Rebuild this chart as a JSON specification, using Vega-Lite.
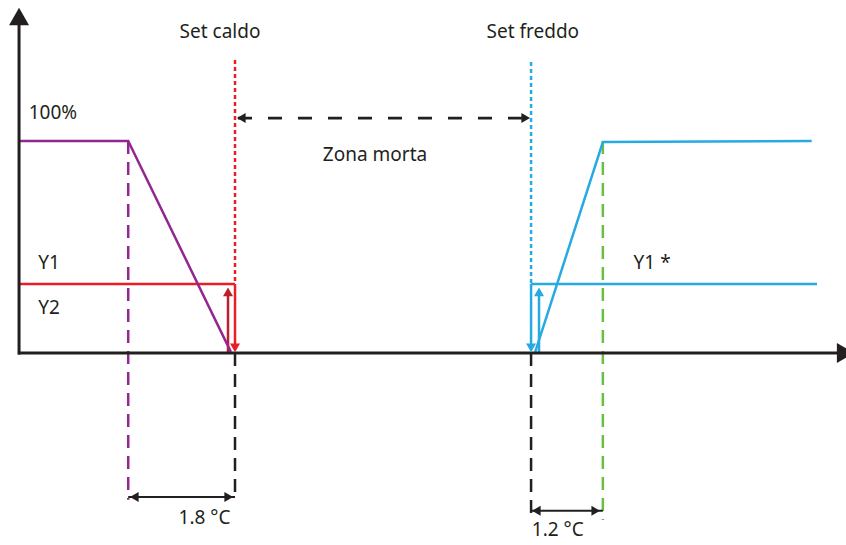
{
  "$schema": "https://vega.github.io/schema/vega-lite/v6.json",
  "width": 846,
  "height": 545,
  "autosize": {"type": "none"},
  "padding": 0,
  "background": "white",
  "config": {"view": {"stroke": null}},
  "datasets": {
    "curve": [
      {"serie": "viola", "ord": 1, "x": -3.64, "y": 100},
      {"serie": "viola", "ord": 2, "x": -1.8, "y": 100},
      {"serie": "viola", "ord": 3, "x": -0.07, "y": 0.5},
      {"serie": "blu", "ord": 1, "x": 5.06, "y": 0.5},
      {"serie": "blu", "ord": 2, "x": 6.2, "y": 99.5},
      {"serie": "blu", "ord": 3, "x": 9.72, "y": 100}
    ],
    "seg": [
      {"gruppo": "assi", "serie": "nero", "tratto": "pieno", "x": -3.64, "y": -0.7, "x2": -3.64, "y2": 155},
      {"gruppo": "assi", "serie": "nero", "tratto": "pieno", "x": -3.66, "y": 0, "x2": 10.2, "y2": 0},
      {"gruppo": "linee", "serie": "viola", "tratto": "tratteggio", "x": -1.8, "y": 100, "x2": -1.8, "y2": -69.3},
      {"gruppo": "linee", "serie": "rosso", "tratto": "pieno", "x": -3.64, "y": 32.5, "x2": 0, "y2": 32.5},
      {"gruppo": "linee", "serie": "rosso", "tratto": "pieno", "x": 0, "y": 32.5, "x2": 0, "y2": 2.5},
      {"gruppo": "linee", "serie": "rosso", "tratto": "punti", "x": 0, "y": 138.2, "x2": 0, "y2": 32.5},
      {"gruppo": "linee", "serie": "rosso scuro", "tratto": "pieno", "x": -0.118, "y": 0, "x2": -0.118, "y2": 27},
      {"gruppo": "linee", "serie": "nero", "tratto": "tratteggio", "x": 0, "y": 0, "x2": 0, "y2": -69.3},
      {"gruppo": "linee", "serie": "nero", "tratto": "tratteggio", "x": 4.99, "y": 0, "x2": 4.99, "y2": -77},
      {"gruppo": "linee", "serie": "blu", "tratto": "punti", "x": 4.99, "y": 137.3, "x2": 4.99, "y2": 32.5},
      {"gruppo": "linee", "serie": "blu", "tratto": "pieno", "x": 4.99, "y": 32.5, "x2": 9.81, "y2": 32.5},
      {"gruppo": "linee", "serie": "blu", "tratto": "pieno", "x": 4.99, "y": 32.5, "x2": 4.99, "y2": 2.5},
      {"gruppo": "linee", "serie": "blu", "tratto": "pieno", "x": 5.124, "y": 0, "x2": 5.124, "y2": 27},
      {"gruppo": "linee", "serie": "verde", "tratto": "tratteggio", "x": 6.2, "y": 100, "x2": 6.2, "y2": -78.8},
      {"gruppo": "quote", "serie": "nero", "tratto": "pieno", "x": -1.8, "y": -67.9, "x2": 0, "y2": -67.9},
      {"gruppo": "quote", "serie": "nero", "tratto": "pieno", "x": 4.99, "y": -74.5, "x2": 6.2, "y2": -74.5},
      {"gruppo": "zona", "serie": "nero", "tratto": "zona", "x": 0.05, "y": 110.8, "x2": 4.95, "y2": 110.8}
    ],
    "punte": [
      {"gruppo": "grande", "serie": "nero", "forma": "triangle-up", "x": -3.64, "y": 158.7},
      {"gruppo": "grande", "serie": "nero", "forma": "triangle-right", "x": 10.29, "y": 0},
      {"gruppo": "piccola", "serie": "rosso", "forma": "triangle-down", "x": 0, "y": 2.36},
      {"gruppo": "piccola", "serie": "rosso scuro", "forma": "triangle-up", "x": -0.118, "y": 28.8},
      {"gruppo": "piccola", "serie": "blu", "forma": "triangle-down", "x": 4.99, "y": 2.36},
      {"gruppo": "piccola", "serie": "blu", "forma": "triangle-up", "x": 5.124, "y": 28.8},
      {"gruppo": "piccola", "serie": "nero", "forma": "triangle-left", "x": -1.697, "y": -67.9},
      {"gruppo": "piccola", "serie": "nero", "forma": "triangle-right", "x": -0.106, "y": -67.9},
      {"gruppo": "piccola", "serie": "nero", "forma": "triangle-left", "x": 5.078, "y": -74.5},
      {"gruppo": "piccola", "serie": "nero", "forma": "triangle-right", "x": 6.08, "y": -74.5},
      {"gruppo": "piccola", "serie": "nero", "forma": "triangle-left", "x": 0.106, "y": 110.8},
      {"gruppo": "piccola", "serie": "nero", "forma": "triangle-right", "x": 4.9, "y": 110.8}
    ],
    "testi": [
      {"testo": "Set caldo", "x": -0.253, "y": 151.4},
      {"testo": "Set freddo", "x": 5.02, "y": 151.4},
      {"testo": "100%", "x": -3.07, "y": 113.2},
      {"testo": "Y1", "x": -3.135, "y": 42.5},
      {"testo": "Y2", "x": -3.135, "y": 21.2},
      {"testo": "Zona morta", "x": 2.36, "y": 93.4},
      {"testo": "Y1 *", "x": 7.03, "y": 42.5},
      {"testo": "1.8 °C", "x": -0.514, "y": -77.8},
      {"testo": "1.2 °C", "x": 5.44, "y": -83.5}
    ]
  },
  "layer": [
    {
      "data": {"name": "seg"},
      "transform": [{"filter": "datum.gruppo === 'linee'"}],
      "mark": {"type": "rule", "strokeWidth": 2.5},
      "encoding": {
        "x": {"field": "x", "type": "quantitative", "scale": {"domain": [-3.961, 10.298], "nice": false, "zero": false}, "axis": null},
        "y": {"field": "y", "type": "quantitative", "scale": {"domain": [-90.6, 166.5], "nice": false, "zero": false}, "axis": null},
        "x2": {"field": "x2"},
        "y2": {"field": "y2"},
        "color": {"field": "serie", "type": "nominal", "legend": null, "scale": {"domain": ["nero", "viola", "rosso", "rosso scuro", "blu", "verde"], "range": ["#231f20", "#92278f", "#ed1c24", "#be1e2d", "#27aae1", "#6abd45"]}},
        "strokeDash": {"field": "tratto", "type": "nominal", "legend": null, "scale": {"domain": ["pieno", "tratteggio", "punti", "zona"], "range": [[1, 0], [13, 8], [4, 3], [14, 16]]}}
      }
    },
    {
      "data": {"name": "curve"},
      "mark": {"type": "line", "strokeWidth": 2.5, "strokeJoin": "miter"},
      "encoding": {
        "x": {"field": "x", "type": "quantitative", "scale": {"domain": [-3.961, 10.298], "nice": false, "zero": false}, "axis": null},
        "y": {"field": "y", "type": "quantitative", "scale": {"domain": [-90.6, 166.5], "nice": false, "zero": false}, "axis": null},
        "order": {"field": "ord", "type": "quantitative"},
        "detail": {"field": "serie"},
        "color": {"field": "serie", "type": "nominal", "legend": null, "scale": {"domain": ["nero", "viola", "rosso", "rosso scuro", "blu", "verde"], "range": ["#231f20", "#92278f", "#ed1c24", "#be1e2d", "#27aae1", "#6abd45"]}}
      }
    },
    {
      "data": {"name": "seg"},
      "transform": [{"filter": "datum.gruppo === 'assi'"}],
      "mark": {"type": "rule", "strokeWidth": 3, "color": "#231f20"},
      "encoding": {
        "x": {"field": "x", "type": "quantitative", "scale": {"domain": [-3.961, 10.298], "nice": false, "zero": false}, "axis": null},
        "y": {"field": "y", "type": "quantitative", "scale": {"domain": [-90.6, 166.5], "nice": false, "zero": false}, "axis": null},
        "x2": {"field": "x2"},
        "y2": {"field": "y2"}
      }
    },
    {
      "data": {"name": "seg"},
      "transform": [{"filter": "datum.gruppo === 'quote'"}],
      "mark": {"type": "rule", "strokeWidth": 2, "color": "#231f20"},
      "encoding": {
        "x": {"field": "x", "type": "quantitative", "scale": {"domain": [-3.961, 10.298], "nice": false, "zero": false}, "axis": null},
        "y": {"field": "y", "type": "quantitative", "scale": {"domain": [-90.6, 166.5], "nice": false, "zero": false}, "axis": null},
        "x2": {"field": "x2"},
        "y2": {"field": "y2"}
      }
    },
    {
      "data": {"name": "seg"},
      "transform": [{"filter": "datum.gruppo === 'zona'"}],
      "mark": {"type": "rule", "strokeWidth": 2.7, "color": "#231f20", "strokeDash": [14, 16]},
      "encoding": {
        "x": {"field": "x", "type": "quantitative", "scale": {"domain": [-3.961, 10.298], "nice": false, "zero": false}, "axis": null},
        "y": {"field": "y", "type": "quantitative", "scale": {"domain": [-90.6, 166.5], "nice": false, "zero": false}, "axis": null},
        "x2": {"field": "x2"},
        "y2": {"field": "y2"}
      }
    },
    {
      "data": {"name": "punte"},
      "transform": [{"filter": "datum.gruppo === 'piccola'"}],
      "mark": {"type": "point", "filled": true, "opacity": 1, "size": 100, "strokeWidth": 0},
      "encoding": {
        "x": {"field": "x", "type": "quantitative", "scale": {"domain": [-3.961, 10.298], "nice": false, "zero": false}, "axis": null},
        "y": {"field": "y", "type": "quantitative", "scale": {"domain": [-90.6, 166.5], "nice": false, "zero": false}, "axis": null},
        "shape": {"field": "forma", "type": "nominal", "scale": null},
        "color": {"field": "serie", "type": "nominal", "legend": null, "scale": {"domain": ["nero", "viola", "rosso", "rosso scuro", "blu", "verde"], "range": ["#231f20", "#92278f", "#ed1c24", "#be1e2d", "#27aae1", "#6abd45"]}}
      }
    },
    {
      "data": {"name": "punte"},
      "transform": [{"filter": "datum.gruppo === 'grande'"}],
      "mark": {"type": "point", "filled": true, "opacity": 1, "size": 400, "strokeWidth": 0, "color": "#231f20"},
      "encoding": {
        "x": {"field": "x", "type": "quantitative", "scale": {"domain": [-3.961, 10.298], "nice": false, "zero": false}, "axis": null},
        "y": {"field": "y", "type": "quantitative", "scale": {"domain": [-90.6, 166.5], "nice": false, "zero": false}, "axis": null},
        "shape": {"field": "forma", "type": "nominal", "scale": null}
      }
    },
    {
      "data": {"name": "testi"},
      "mark": {"type": "text", "font": "Noto Sans", "fontSize": 19, "color": "#231f20", "align": "center", "baseline": "middle"},
      "encoding": {
        "x": {"field": "x", "type": "quantitative", "scale": {"domain": [-3.961, 10.298], "nice": false, "zero": false}, "axis": null},
        "y": {"field": "y", "type": "quantitative", "scale": {"domain": [-90.6, 166.5], "nice": false, "zero": false}, "axis": null},
        "text": {"field": "testo"}
      }
    }
  ]
}
